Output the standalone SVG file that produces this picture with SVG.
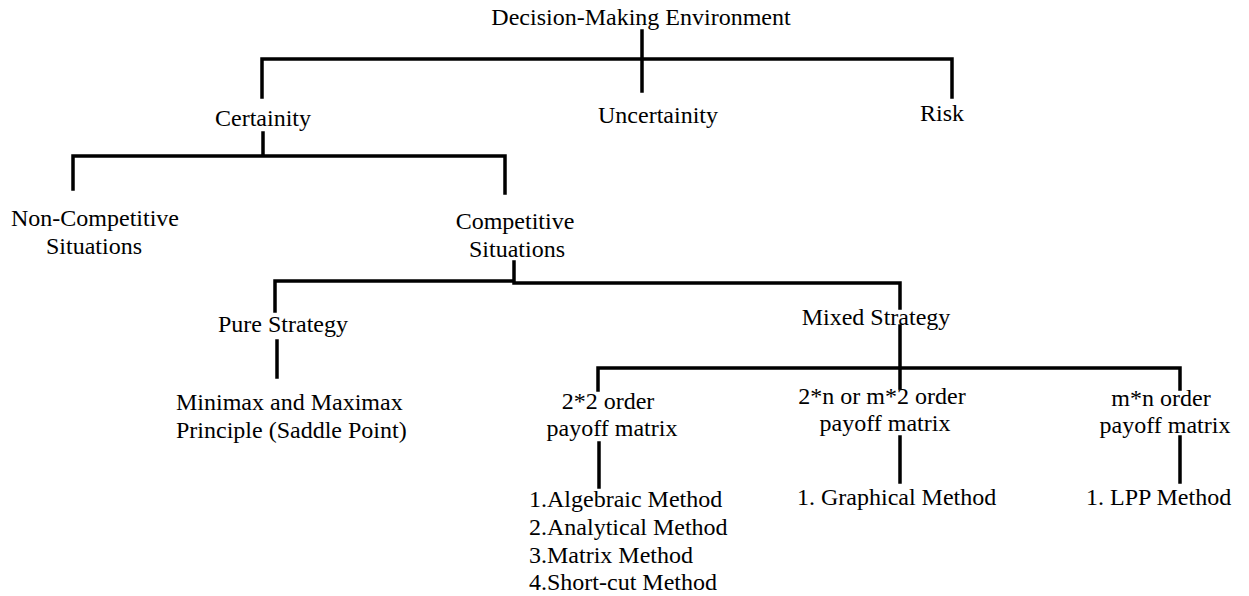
<svg xmlns="http://www.w3.org/2000/svg" width="1249" height="596" viewBox="0 0 1249 596">
<style>
text{font-family:"Liberation Serif","Times New Roman",serif;font-size:24px;fill:#000}
.c{text-anchor:middle}
.l{stroke:#000;stroke-width:3.5;fill:none;stroke-linecap:square}
</style>
<rect width="1249" height="596" fill="#fff"/>
<g id="connectors" class="l">
<path class="l" d="M642 31V59M262 97V59H952V97M642 59V91"/>
<path class="l" d="M263 133V156M73 189V156H505V193"/>
<path class="l" d="M514 262V281H275V311M514 283H900V308M900 326V388"/>
<path class="l" d="M277 341V377"/>
<path class="l" d="M598 390V368H1180V389"/>
<path class="l" d="M599 443V487M900 437V482M1180 437V482"/>
</g>
<g id="root"><text class="c" x="641" y="25">Decision-Making Environment</text></g>
<g id="certainty"><text class="c" x="263" y="126">Certainity</text></g>
<g id="uncertainty"><text class="c" x="658" y="123">Uncertainity</text></g>
<g id="risk"><text class="c" x="942" y="121">Risk</text></g>
<g id="noncompetitive"><text class="c" x="95" y="226">Non-Competitive</text><text class="c" x="94" y="254">Situations</text></g>
<g id="competitive"><text class="c" x="515" y="229">Competitive</text><text class="c" x="517" y="257">Situations</text></g>
<g id="pure"><text class="c" x="283" y="332">Pure Strategy</text></g>
<g id="mixed"><text class="c" x="876" y="325">Mixed Strategy</text></g>
<g id="minimax"><text x="176" y="410">Minimax and Maximax</text><text x="176" y="438">Principle (Saddle Point)</text></g>
<g id="m22"><text class="c" x="608" y="409">2*2 order</text><text class="c" x="612" y="436">payoff matrix</text></g>
<g id="m2n"><text class="c" x="882" y="404">2*n or m*2 order</text><text class="c" x="885" y="431">payoff matrix</text></g>
<g id="mmn"><text class="c" x="1161" y="406">m*n order</text><text class="c" x="1165" y="433">payoff matrix</text></g>
<g id="methods22"><text x="529" y="507">1.Algebraic Method</text><text x="529" y="535">2.Analytical Method</text><text x="529" y="563">3.Matrix Method</text><text x="529" y="590">4.Short-cut Method</text></g>
<g id="methods2n"><text x="797" y="505">1. Graphical Method</text></g>
<g id="methodsmn"><text x="1086" y="505">1. LPP Method</text></g>
</svg>
